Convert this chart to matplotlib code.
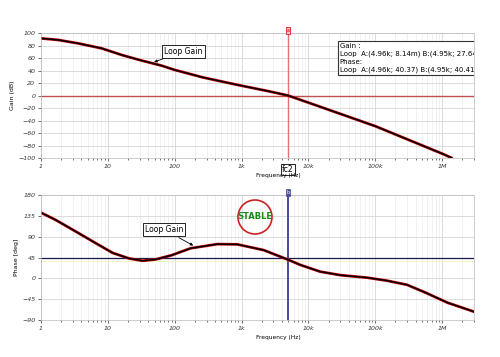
import matplotlib
matplotlib.use('Agg')
import matplotlib.pyplot as plt
from matplotlib.ticker import FixedLocator, FuncFormatter, LogLocator, NullFormatter
from matplotlib.patches import Ellipse

# 読み取った値（ボード線図）
gain_freq = [1, 1.8, 3.6, 8.1, 16, 32, 63, 100, 264, 830, 2640, 4960, 10400,
             100000, 1000000, 1400000]
gain_db = [91.5, 89, 83.5, 75.5, 65, 56, 48, 41, 29, 17.5, 6.5, 0, -12,
           -49, -93, -100]

phase_freq = [1, 1.67, 3.33, 6.6, 11.8, 20.8, 33, 52, 90, 173, 433, 860, 2150, 4950,
              7600, 15000, 30000, 76000, 150000, 300000, 590000, 1200000, 3000000]
phase_deg = [142, 126, 101, 76, 55, 43, 38, 41, 50, 65, 74, 73.5, 61, 40.4,
             29, 14.5, 7, 1.5, -5, -14, -32, -52.5, -72]

gain_ticks = [100, 80, 60, 40, 20, 0, -20, -40, -60, -80, -100]
phase_ticks = [180, 135, 90, 45, 0, -45, -90]
freq_ticks = [1, 10, 100, 1e3, 1e4, 1e5, 1e6]
freq_labels = ['1', '10', '100', '1k', '10k', '100k', '1M']

cursor_a = 4960
cursor_b = 4950

fig = plt.figure(figsize=(5, 3.57), dpi=100)
ax1 = fig.add_axes([0.082, 0.5574, 0.866, 0.350])
ax2 = fig.add_axes([0.082, 0.1036, 0.866, 0.350])


def style(ax, ticks, ylim, ylabel):
    ax.set_xscale('log')
    ax.set_xlim(1, 3e6)
    ax.set_ylim(*ylim)
    ax.xaxis.set_major_locator(FixedLocator(freq_ticks))
    ax.xaxis.set_major_formatter(FuncFormatter(lambda v, p: freq_labels[freq_ticks.index(v)] if v in freq_ticks else ''))
    ax.xaxis.set_minor_locator(LogLocator(base=10, subs=range(2, 10), numticks=20))
    ax.xaxis.set_minor_formatter(NullFormatter())
    ax.yaxis.set_major_locator(FixedLocator(ticks))
    ax.grid(True, which='major', color='#d6d6d6', lw=0.6)
    ax.grid(True, which='minor', axis='x', color='#ebebeb', lw=0.5)
    ax.tick_params(labelsize=4.5, length=2, width=0.5, colors='#333333', pad=2)
    ax.tick_params(which='minor', length=1.2, width=0.4)
    for s in ax.spines.values():
        s.set_color('#bbbbbb')
        s.set_linewidth(0.5)
    ax.set_ylabel(ylabel, fontsize=4.5, labelpad=2)
    for t in ax.get_xticklabels() + ax.get_yticklabels():
        t.set_fontstyle('italic')


# 上段: ゲイン
style(ax1, gain_ticks, (-100, 100), 'Gain (dB)')
ax1.axhline(0, color='#c0504d', lw=1.0)
ax1.axvline(cursor_a, color='#e87070', lw=1.0)
ax1.plot(gain_freq, gain_db, color='#cc0000', lw=2.0, solid_capstyle='round')
ax1.plot(gain_freq, gain_db, color='black', lw=1.1)
ax1.annotate('Loop Gain', xy=(45, 52), xytext=(70, 67), fontsize=5.5,
             bbox=dict(boxstyle='square,pad=0.25', fc='white', ec='black', lw=0.6),
             arrowprops=dict(arrowstyle='-|>', color='black', lw=0.6, mutation_scale=4))
ax1.text(0.69, 0.92,
         'Gain :\nLoop  A:(4.96k; 8.14m) B:(4.95k; 27.64m)\nPhase:\nLoop  A:(4.96k; 40.37) B:(4.95k; 40.41)',
         transform=ax1.transAxes, fontsize=5, va='top', ha='left', linespacing=1.3, clip_on=True,
         bbox=dict(boxstyle='square,pad=0.3', fc='white', ec='#333333', lw=0.8))
ax1.text(cursor_a, 1.0, 'a', transform=ax1.get_xaxis_transform(), fontsize=3.5, color='#cc0000',
         ha='center', va='bottom', bbox=dict(boxstyle='square,pad=0.15', fc='#f4c0c0', ec='#cc0000', lw=0.5),
         clip_on=False)
ax1.text(cursor_a, -0.055, 'fc2', transform=ax1.get_xaxis_transform(), fontsize=5.5, ha='center', va='top',
         bbox=dict(boxstyle='square,pad=0.15', fc='white', ec='black', lw=0.6), clip_on=False)
fig.text(0.556, 0.508, 'Frequency (Hz)', fontsize=4.2, ha='center', va='center')

# 下段: 位相
style(ax2, phase_ticks, (-90, 180), 'Phase [deg]')
ax2.axhline(45, color='#1a1a4a', lw=0.9)
ax2.axhline(38, color='#f2f2b0', lw=0.6)
ax2.axvline(cursor_b, color='#4a4a99', lw=1.4)
ax2.plot(phase_freq, phase_deg, color='#cc0000', lw=2.0, solid_capstyle='round')
ax2.plot(phase_freq, phase_deg, color='black', lw=1.1)
ax2.annotate('Loop Gain', xy=(206, 68), xytext=(36, 100), fontsize=5.5,
             bbox=dict(boxstyle='square,pad=0.25', fc='white', ec='black', lw=0.6),
             arrowprops=dict(arrowstyle='-|>', color='black', lw=0.6, mutation_scale=4))
ax2.text(cursor_b, 1.0, 'b', transform=ax2.get_xaxis_transform(), fontsize=3.5, color='white',
         ha='center', va='bottom', bbox=dict(boxstyle='square,pad=0.15', fc='#4a4a99', ec='#4a4a99', lw=0.5),
         clip_on=False)
fig.text(0.556, 0.055, 'Frequency (Hz)', fontsize=4.2, ha='center', va='center')

# STABLE マーク
fig.add_artist(Ellipse((255 / 500, 1 - 217 / 357), 34 / 500, 34 / 357, transform=fig.transFigure,
                       fill=False, ec='#cc2222', lw=1.2))
fig.text(255 / 500, 1 - 217 / 357, 'STABLE', fontsize=6, fontweight='bold', color='#1a8a1a',
         ha='center', va='center')

fig.savefig('out.png', dpi=100)
